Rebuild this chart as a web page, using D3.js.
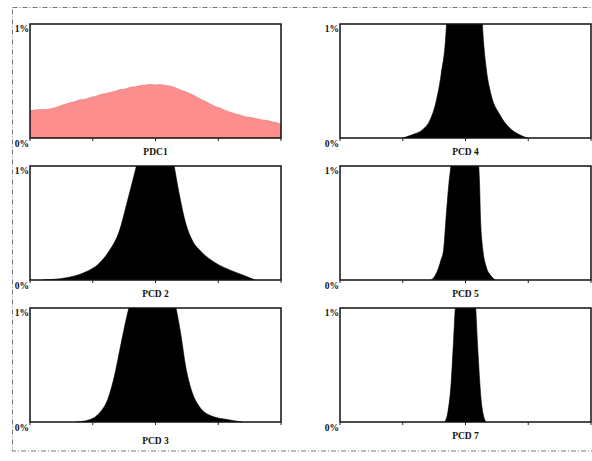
<!DOCTYPE html>
<html>
<head>
<meta charset="utf-8">
<script src="https://cdn.jsdelivr.net/npm/d3@7"></script>
<style>
body { margin: 0; background: #fff; }
svg { display: block; }
.lbl { font-family: "Liberation Serif", "DejaVu Serif", serif; font-weight: bold; font-size: 9.5px; fill: #111; }
</style>
</head>
<body>
<script>
// axis values
xTicks = [0, 25, 50, 75, 100];
yLabels = ["0%", "1%"];
panelNames = ["PDC1", "PCD 2", "PCD 3", "PCD 4", "PCD 5", "PCD 7"];

// histogram outlines (x in 0..100, y in % ; above 1 gets clipped)
pdc1X = [0,2,4,6,8,10,12,14,16,18,20,22,24,26,28,30,32,34,36,38,40,42,44,46,48,50,52,54,56,58,60,62,64,66,68,70,72,74,76,78,80,82,84,86,88,90,92,94,96,98,100];
pdc1Y = [0.24,0.245,0.25,0.25,0.255,0.265,0.28,0.295,0.31,0.32,0.335,0.34,0.355,0.365,0.38,0.39,0.4,0.41,0.425,0.43,0.445,0.45,0.46,0.465,0.47,0.465,0.47,0.46,0.455,0.44,0.42,0.405,0.385,0.365,0.34,0.32,0.295,0.275,0.26,0.24,0.225,0.21,0.2,0.185,0.18,0.17,0.16,0.155,0.145,0.135,0.12];
pcd2X = [5,14.5,21,27.7,31.7,35.6,38.9,41.6,43,50,57,59.4,62,64.6,68.6,73.9,80.5,85.8,89.7];
pcd2Y = [0,0.02,0.06,0.15,0.26,0.43,0.7,0.93,1.05,1.6,1.05,0.76,0.5,0.35,0.24,0.15,0.08,0.035,0];
pcd3X = [18.5,23.7,27.7,31,33.6,36.3,38.3,39.6,49,58,60,62,64.6,67.3,72.6,79,84.4];
pcd3Y = [0,0.02,0.08,0.2,0.4,0.69,0.9,1.02,1.7,1.02,0.78,0.49,0.26,0.14,0.05,0.02,0];
pcd4X = [25,29,33,35.7,38.4,40.3,42.3,43,50,56,57,58.2,60.2,63.5,67.5,71.4,74.7];
pcd4Y = [0,0.03,0.074,0.15,0.33,0.56,0.95,1.3,1.8,1.3,0.9,0.62,0.38,0.21,0.09,0.03,0];
pcd5X = [36.4,38.4,40.3,41.3,42.3,43.4,44.3,50,55.2,55.6,55.95,56.9,58.2,60.2,61.9];
pcd5Y = [0,0.06,0.18,0.27,0.56,0.85,1.02,1.8,1.02,0.85,0.56,0.27,0.12,0.035,0];
pcd7X = [41.7,43,44.3,45.2,46,50,54,54.9,56.2,57.5,58.2];
pcd7Y = [0,0.09,0.35,0.7,1.02,1.6,1.02,0.64,0.2,0.03,0];

var series = [
    {name: panelNames[0], xs: pdc1X, ys: pdc1Y, col: 0, row: 0, fill: "#fd8e8e"},
    {name: panelNames[1], xs: pcd2X, ys: pcd2Y, col: 0, row: 1, fill: "#000"},
    {name: panelNames[2], xs: pcd3X, ys: pcd3Y, col: 0, row: 2, fill: "#000"},
    {name: panelNames[3], xs: pcd4X, ys: pcd4Y, col: 1, row: 0, fill: "#000"},
    {name: panelNames[4], xs: pcd5X, ys: pcd5Y, col: 1, row: 1, fill: "#000"},
    {name: panelNames[5], xs: pcd7X, ys: pcd7Y, col: 1, row: 2, fill: "#000"}
];

var width = 592, height = 461;
var colLeft = [30, 340], panelW = 251;
var rowTop = [24, 166, 308], panelH = 114;

var svg = d3.select("body").append("svg")
    .attr("width", width)
    .attr("height", height);

// outer dash-dot frame (right side runs off the picture)
svg.append("rect")
    .attr("x", 12.5).attr("y", 7.5)
    .attr("width", 600).attr("height", 443.5)
    .attr("fill", "none")
    .attr("stroke", "#777")
    .attr("stroke-width", 1)
    .attr("stroke-dasharray", "5,2,1,2");

series.forEach(function(s, i) {
    var x = d3.scaleLinear().domain([0, 100]).range([0, panelW]);
    var y = d3.scaleLinear().domain([0, 1]).range([panelH, 0]);

    var g = svg.append("g")
        .attr("transform", "translate(" + colLeft[s.col] + "," + rowTop[s.row] + ")");

    g.append("clipPath").attr("id", "clip" + i)
        .append("rect").attr("width", panelW).attr("height", panelH);

    var pts = s.xs.map((v, k) => [v, s.ys[k]]);
    var area = d3.area()
        .curve(d3.curveMonotoneX)
        .x(d => x(d[0]))
        .y0(y(0))
        .y1(d => y(d[1]));

    g.append("path")
        .datum(pts)
        .attr("clip-path", "url(#clip" + i + ")")
        .attr("d", area)
        .attr("fill", s.fill)
        .attr("stroke", i == 0 ? "#e07272" : "#000")
        .attr("stroke-width", 0.6);

    g.append("rect")
        .attr("width", panelW).attr("height", panelH)
        .attr("fill", "none")
        .attr("stroke", "#111")
        .attr("stroke-width", 1.5);

    // bottom ticks
    g.selectAll(".tk").data(xTicks).enter().append("line")
        .attr("x1", d => x(d)).attr("x2", d => x(d))
        .attr("y1", panelH).attr("y2", panelH + 3)
        .attr("stroke", "#222").attr("stroke-width", 1);

    g.append("text").attr("class", "lbl")
        .attr("x", -1).attr("y", y(1) + 8)
        .attr("text-anchor", "end")
        .text(yLabels[1]);
    g.append("text").attr("class", "lbl")
        .attr("x", -1).attr("y", y(0) + 9)
        .attr("text-anchor", "end")
        .text(yLabels[0]);

    g.append("text").attr("class", "lbl")
        .attr("x", x(50)).attr("y", panelH + (s.row == 2 && s.col == 0 ? 22 : 17))
        .attr("text-anchor", "middle")
        .text(s.name);
});
</script>
</body>
</html>
